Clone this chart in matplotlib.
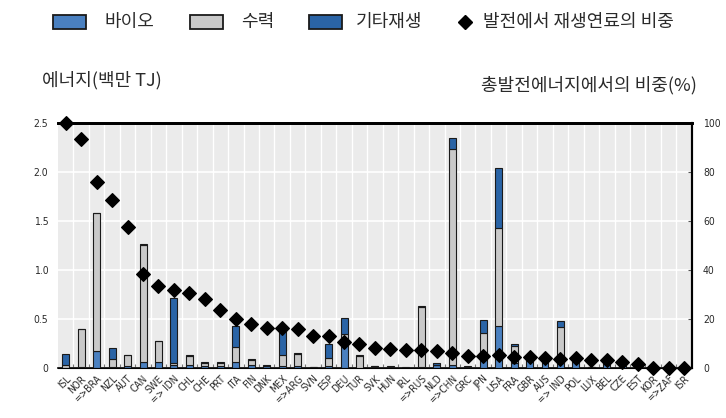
import numpy as np
import matplotlib
matplotlib.use("Agg")
import matplotlib.pyplot as plt
from matplotlib.patches import Rectangle
from matplotlib.lines import Line2D

plt.rcParams['font.family'] = ['Noto Sans CJK KR', 'DejaVu Sans']

countries = ["ISL", "NOR", "=>BRA", "NZL", "AUT", "CAN", "SWE", "=> IDN", "CHL", "CHE",
             "PRT", "ITA", "FIN", "DNK", "MEX", "=>ARG", "SVN", "ESP", "DEU", "TUR",
             "SVK", "HUN", "IRL", "=>RUS", "NLD", "=>CHN", "GRC", "JPN", "USA", "FRA",
             "GBR", "AUS", "=> IND", "POL", "LUX", "BEL", "CZE", "EST", "KOR", "=>ZAF", "ISR"]

# 백만 TJ
bio = [0.00, 0.01, 0.17, 0.01, 0.02, 0.06, 0.06, 0.03, 0.03, 0.02,
       0.02, 0.06, 0.03, 0.02, 0.02, 0.02, 0.00, 0.02, 0.28, 0.00,
       0.01, 0.01, 0.00, 0.01, 0.03, 0.03, 0.00, 0.12, 0.425, 0.05,
       0.08, 0.06, 0.05, 0.06, 0.01, 0.04, 0.03, 0.01, 0.00, 0.00, 0.00]
hydro = [0.03, 0.39, 1.41, 0.085, 0.11, 1.20, 0.22, 0.02, 0.09, 0.035,
         0.03, 0.15, 0.05, 0.00, 0.11, 0.12, 0.01, 0.08, 0.07, 0.12,
         0.01, 0.00, 0.005, 0.61, 0.00, 2.20, 0.01, 0.24, 1.00, 0.17,
         0.01, 0.02, 0.37, 0.01, 0.00, 0.00, 0.01, 0.00, 0.00, 0.00, 0.00]
other = [0.11, 0.00, 0.005, 0.105, 0.00, 0.01, 0.00, 0.66, 0.01, 0.005,
         0.01, 0.22, 0.015, 0.01, 0.27, 0.01, 0.00, 0.15, 0.16, 0.015,
         0.00, 0.01, 0.005, 0.01, 0.02, 0.12, 0.01, 0.13, 0.615, 0.02,
         0.03, 0.03, 0.06, 0.00, 0.00, 0.01, 0.01, 0.01, 0.00, 0.00, 0.00]
# 발전에서 재생연료의 비중 (%)
share = [100, 93.6, 76, 68.6, 57.4, 38.3, 33.4, 32, 30.7, 28,
         23.6, 20, 17.9, 16.5, 16.5, 16.0, 13.2, 13.0, 10.8, 10.0,
         8.3, 7.8, 7.2, 7.2, 7.0, 6.1, 5.0, 5.0, 5.2, 4.5,
         4.5, 4.1, 3.8, 4.1, 3.4, 3.4, 2.5, 1.8, 0, 0, 0]

legend_labels = ["바이오", "수력", "기타재생", "발전에서 재생연료의 비중"]

c_bio = "#4a80c0"
c_hydro = "#c9c9c9"
c_other = "#2a64a6"
edge = "#1a1a1a"
txt = "#2a2a2a"
narrow = dict(family="DejaVu Sans", stretch="condensed")

fig = plt.figure(figsize=(7.26, 4.18), dpi=100)
ax = fig.add_axes([0.0799, 0.1196, 0.8731, 0.5861])
ax.set_facecolor("#ebebeb")

x = np.arange(len(countries))
bio = np.array(bio); hydro = np.array(hydro); other = np.array(other)
w = 0.45
ax.bar(x, bio, w, color=c_bio, edgecolor=edge, linewidth=0.8, zorder=3)
ax.bar(x, hydro, w, bottom=bio, color=c_hydro, edgecolor=edge, linewidth=0.8, zorder=3)
ax.bar(x, other, w, bottom=bio + hydro, color=c_other, edgecolor=edge, linewidth=0.8, zorder=3)

ax.set_xlim(-0.5, len(countries) - 0.5)
ax.set_ylim(0, 2.5)
ax.set_yticks([0, 0.5, 1.0, 1.5, 2.0, 2.5])
ax.set_yticklabels(["0", "0.5", "1.0", "1.5", "2.0", "2.5"], color=txt, fontsize=7.5, **narrow)
ax.set_xticks(x)
ax.set_xticklabels(countries, rotation=45, ha="right", rotation_mode="anchor",
                   fontsize=7.3, color=txt, **narrow)
ax.tick_params(axis="x", length=0, pad=4)
ax.set_xticks(x[:-1] + 0.5, minor=True)
ax.tick_params(axis="x", which="minor", direction="in", length=3, color="#777777", width=0.8)
ax.tick_params(axis="y", length=0, pad=7)

# grid
ax.grid(axis="y", color="white", linewidth=1.2, zorder=0)
for b in x[:-1] + 0.5:
    ax.axvline(b, color="white", linewidth=1.0, zorder=1)

ax.spines["left"].set_visible(False)
ax.spines["top"].set_linewidth(2)
ax.spines["right"].set_linewidth(1.5)
ax.spines["bottom"].set_linewidth(1.2)

ax2 = ax.twinx()
ax2.set_ylim(0, 100)
ax2.set_yticks([0, 20, 40, 60, 80, 100])
ax2.set_yticklabels(["0", "20", "40", "60", "80", "100"], color=txt, fontsize=7.5, **narrow)
ax2.tick_params(axis="y", direction="in", length=3, pad=8, color="#555555")
ax2.scatter(x, share, marker="D", s=48, color="black", zorder=5, clip_on=False)
ax2.spines["left"].set_visible(False)
ax2.spines["top"].set_linewidth(2)
ax2.spines["right"].set_linewidth(1.5)

# legend drawn in figure pixels (726 x 418)
W, H = 726.0, 418.0
ly = 22
patch_specs = [(53, c_bio), (190, c_hydro), (309, c_other)]
for px, col in patch_specs:
    fig.add_artist(Rectangle((px / W, 1 - (ly + 7) / H), 33 / W, 14 / H,
                             transform=fig.transFigure, facecolor=col,
                             edgecolor=edge, linewidth=1.3))
fig.add_artist(Line2D([465 / W], [1 - ly / H], marker="D", color="black",
                      markersize=7.5, transform=fig.transFigure))
for lx, lab in zip([104, 241, 356, 483], legend_labels):
    fig.text(lx / W, 1 - ly / H, lab, fontsize=13, color=txt, ha="left", va="center")

fig.text(42 / W, 1 - 80 / H, "에너지(백만 TJ)", fontsize=13, color=txt, ha="left", va="center")
fig.text(697 / W, 1 - 85 / H, "총발전에너지에서의 비중(%)", fontsize=13, color=txt,
         ha="right", va="center")

fig.savefig("out.png", dpi=100)
